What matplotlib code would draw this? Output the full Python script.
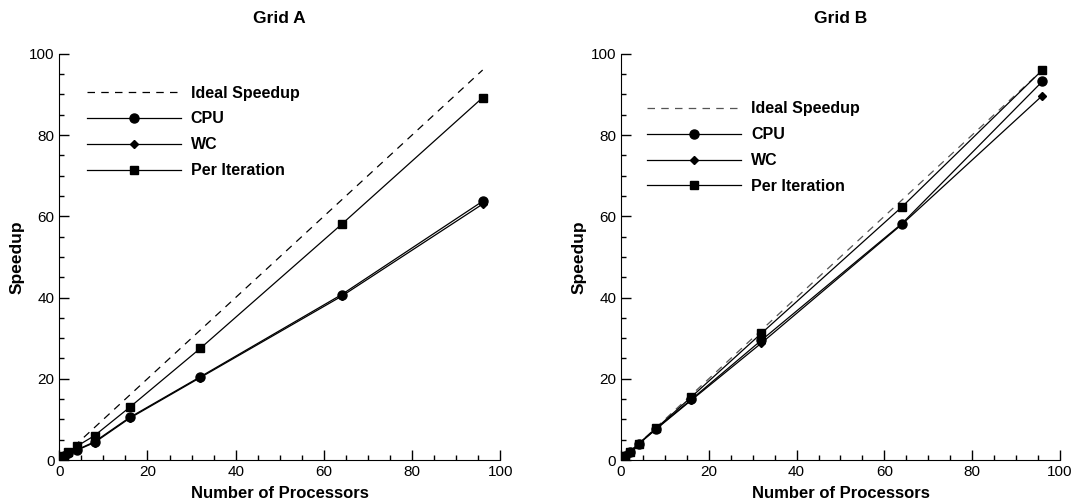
import matplotlib.pyplot as plt
from matplotlib.ticker import MultipleLocator

plt.rcParams['font.family'] = ['Liberation Sans', 'DejaVu Sans']

procs = [1, 2, 4, 8, 16, 32, 64, 96]
ideal = [1, 96]

# Grid A
a_cpu = [1.0, 1.8, 2.5, 4.5, 10.5, 20.5, 40.7, 63.7]
a_wc = [1.0, 1.8, 2.4, 4.3, 10.3, 20.3, 40.3, 63.0]
a_iter = [1.0, 2.0, 3.4, 6.0, 13.0, 27.5, 58.0, 89.2]

# Grid B
b_cpu = [1.0, 2.0, 4.0, 7.7, 14.9, 29.5, 58.2, 93.2]
b_wc = [1.0, 2.0, 3.9, 7.6, 14.7, 28.8, 58.0, 89.7]
b_iter = [1.0, 2.0, 4.0, 7.8, 15.5, 31.2, 62.3, 96.0]

fig = plt.figure(figsize=(10.81, 5.04), dpi=100)
ax1 = fig.add_axes([0.0548, 0.0873, 0.408, 0.806])
ax2 = fig.add_axes([0.5745, 0.0873, 0.406, 0.806])


def draw(ax, title, cpu, wc, it, legend_loc, ideal_color):
    ax.plot(ideal, ideal, '--', color=ideal_color, lw=0.9, dashes=(6, 5), label='Ideal Speedup')
    ax.plot(procs, cpu, '-', color='black', lw=0.9, marker='o', ms=6.5, label='CPU')
    ax.plot(procs, wc, '-', color='black', lw=0.9, marker='D', ms=4, label='WC')
    ax.plot(procs, it, '-', color='black', lw=0.9, marker='s', ms=5.5, label='Per Iteration')
    ax.set_xlim(0, 100)
    ax.set_ylim(0, 100)
    ax.xaxis.set_major_locator(MultipleLocator(20))
    ax.xaxis.set_minor_locator(MultipleLocator(5))
    ax.yaxis.set_major_locator(MultipleLocator(20))
    ax.yaxis.set_minor_locator(MultipleLocator(5))
    ax.tick_params(which='both', direction='in', labelsize=11, width=1)
    ax.tick_params(which='major', length=7)
    ax.tick_params(which='minor', length=3.6)
    ax.spines['top'].set_visible(False)
    ax.spines['right'].set_visible(False)
    ax.set_title(title, fontsize=12.5, fontweight='bold', pad=22)
    ax.set_xlabel('Number of Processors', fontsize=12, fontweight='bold', labelpad=5)
    ax.set_ylabel('Speedup', fontsize=12.5, fontweight='bold', labelpad=3)
    ax.legend(loc='upper left', bbox_to_anchor=legend_loc, frameon=False,
              handlelength=5.9, labelspacing=0.68, handletextpad=0.6,
              prop={'weight': 'bold', 'size': 11.5})


draw(ax1, 'Grid A', a_cpu, a_wc, a_iter, (0.03, 0.957), 'black')
draw(ax2, 'Grid B', b_cpu, b_wc, b_iter, (0.027, 0.918), '#555555')

fig.savefig('out.png', dpi=100)
